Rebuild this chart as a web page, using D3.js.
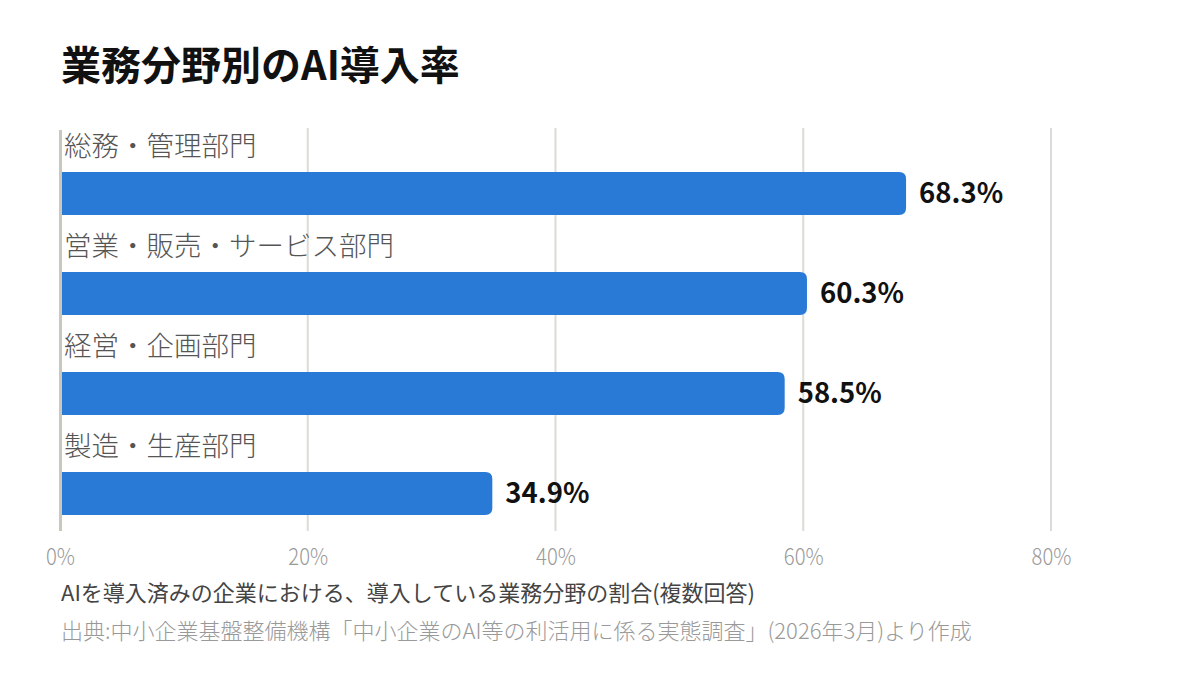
<!DOCTYPE html>
<html lang="ja">
<head>
<meta charset="utf-8">
<script src="https://cdn.jsdelivr.net/npm/d3@7"></script>
<style>
  body { margin: 0; background: #fff; }
  text { font-family: "Noto Sans CJK JP", "Noto Sans", sans-serif; }
</style>
</head>
<body>
<div id="wrapper"></div>
<script>
// データ
const categories = ["総務・管理部門", "営業・販売・サービス部門", "経営・企画部門", "製造・生産部門"];
const values = [68.3, 60.3, 58.5, 34.9];
const tickValues = [0, 20, 40, 60, 80];

const title = "業務分野別のAI導入率";
const note = "AIを導入済みの企業における、導入している業務分野の割合(複数回答)";
const source = "出典:中小企業基盤整備機構「中小企業のAI等の利活用に係る実態調査」(2026年3月)より作成";

function drawChart() {
    const dimensions = {
        width: 1200,
        height: 680,
        margins: { top: 128, right: 149, bottom: 150, left: 60 }
    };
    dimensions.boundedWidth = dimensions.width - dimensions.margins.left - dimensions.margins.right;
    dimensions.boundedHeight = dimensions.height - dimensions.margins.top - dimensions.margins.bottom;

    const svg = d3.select("#wrapper")
        .append("svg")
        .attr("width", dimensions.width)
        .attr("height", dimensions.height);

    svg.append("text")
        .attr("x", 61)
        .attr("y", 80)
        .attr("font-size", 40)
        .attr("font-weight", 700)
        .attr("fill", "#111")
        .text(title);

    const bounds = svg.append("g")
        .attr("transform", `translate(${dimensions.margins.left},${dimensions.margins.top})`);

    // スケール
    const xScale = d3.scaleLinear()
        .domain([0, 80])
        .range([0, dimensions.boundedWidth]);

    const yScale = d3.scaleBand()
        .domain(categories)
        .range([0, 400]);

    // グリッド
    bounds.append("g")
        .selectAll("line")
        .data(tickValues.filter(d => d > 0))
        .join("line")
        .attr("x1", d => xScale(d))
        .attr("x2", d => xScale(d))
        .attr("y1", 0)
        .attr("y2", 403)
        .attr("stroke", "#dcdcd6")
        .attr("stroke-width", 2);

    // 軸ラベル
    const xAxis = d3.axisBottom(xScale)
        .tickValues(tickValues)
        .tickFormat(d => d + "%")
        .tickSize(0)
        .tickPadding(0);
    const axisG = bounds.append("g")
        .attr("transform", "translate(0,437)")
        .call(xAxis);
    axisG.select(".domain").remove();
    axisG.selectAll("text")
        .attr("font-size", 23)
        .attr("font-weight", 300)
        .attr("fill", "#999")
        .attr("dy", 0)
        .attr("transform", "scale(0.88,1)")
        .style("font-family", "'Noto Sans CJK JP', sans-serif");

    const barH = 43;
    const r = 7;

    const rows = bounds.append("g")
        .selectAll("g")
        .data(categories)
        .join("g")
        .attr("transform", c => `translate(0,${yScale(c)})`);

    // カテゴリ名
    rows.append("text")
        .attr("x", 4)
        .attr("y", 28)
        .attr("font-size", 27.5)
        .attr("font-weight", 300)
        .attr("fill", "#555")
        .text(c => c);

    // 棒 (右端だけ角丸)
    rows.append("path")
        .attr("fill", "#2979d6")
        .attr("d", (c, i) => {
            const w = xScale(values[i]);
            const y0 = 44, y1 = 44 + barH;
            return `M0,${y0}H${w - r}Q${w},${y0} ${w},${y0 + r}V${y1 - r}Q${w},${y1} ${w - r},${y1}H0Z`;
        });

    // 値ラベル
    rows.append("text")
        .attr("x", (c, i) => xScale(values[i]) + 13)
        .attr("y", 44 + barH / 2)
        .attr("dy", "0.36em")
        .attr("font-size", 27.5)
        .attr("font-weight", 700)
        .attr("fill", "#111")
        .text((c, i) => values[i].toFixed(1) + "%");

    // 0% ライン
    bounds.append("line")
        .attr("x1", xScale(0) + 0.5)
        .attr("x2", xScale(0) + 0.5)
        .attr("y1", 2)
        .attr("y2", 403)
        .attr("stroke", "#c8c8bc")
        .attr("stroke-width", 3);

    // 注記
    svg.append("text")
        .attr("x", 61)
        .attr("y", 601)
        .attr("font-size", 22)
        .attr("fill", "#444")
        .text(note);

    svg.append("text")
        .attr("x", 61)
        .attr("y", 639)
        .attr("font-size", 22)
        .attr("font-weight", 300)
        .attr("fill", "#999")
        .text(source);
}

drawChart();
</script>
</body>
</html>
